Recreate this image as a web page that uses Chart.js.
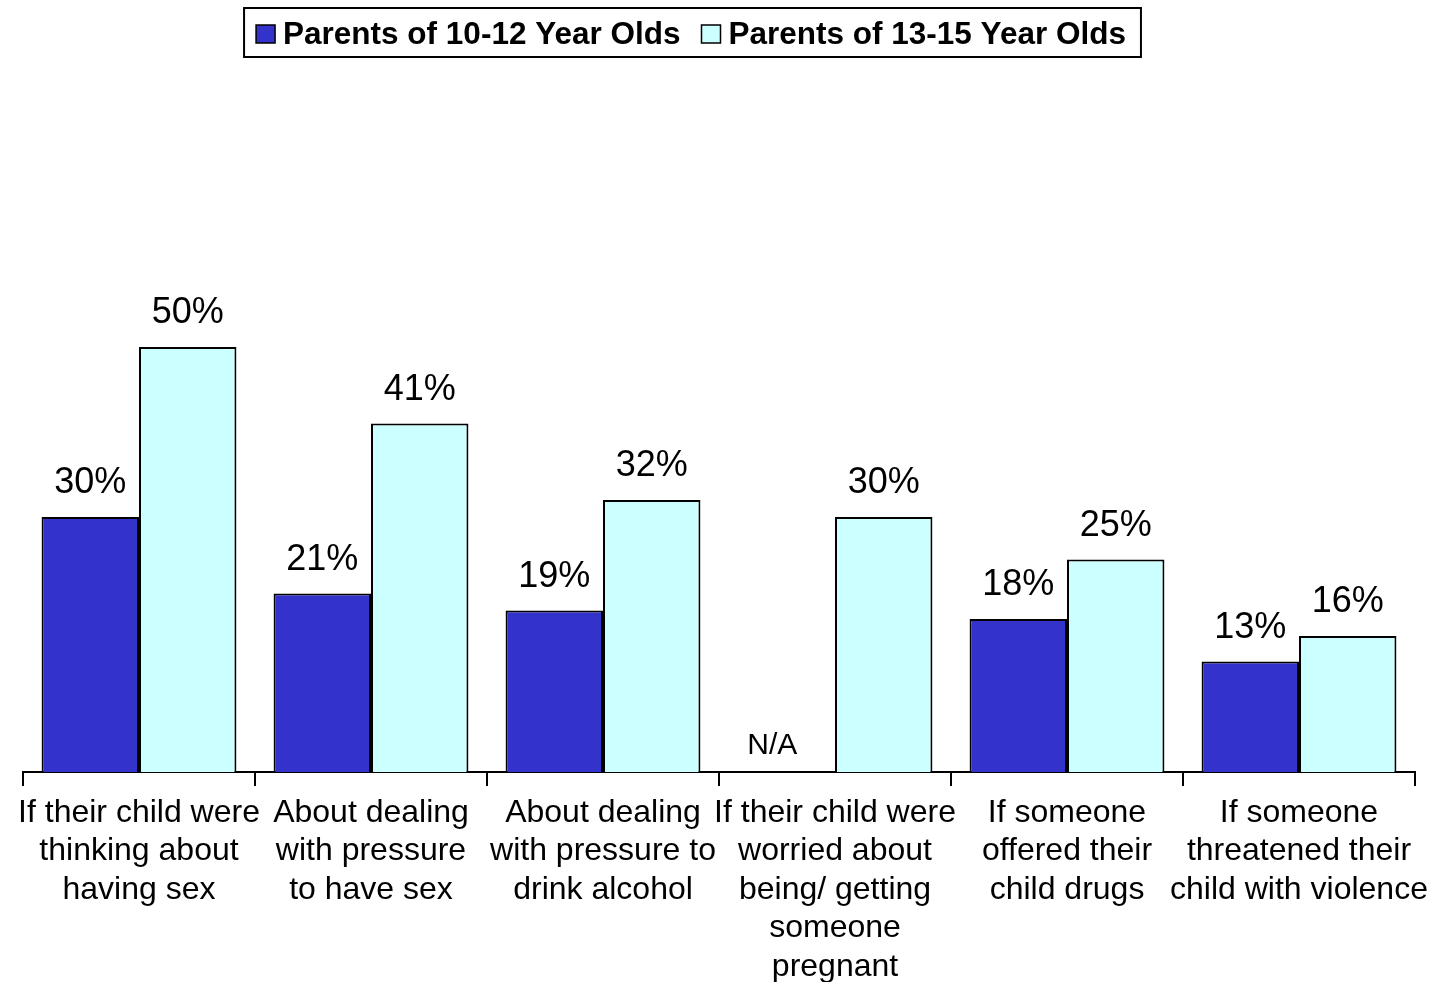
<!DOCTYPE html>
<html>
<head>
<meta charset="utf-8">
<script src="https://cdn.jsdelivr.net/npm/chart.js@4.4.1/dist/chart.umd.min.js"></script>
<style>
  html, body { margin: 0; padding: 0; background: #fff; }
  canvas { display: block; }
</style>
</head>
<body>
<canvas id="chart" width="1451" height="982"></canvas>
<script>
const categories = [
  ['If their child were', 'thinking about', 'having sex'],
  ['About dealing', 'with pressure', 'to have sex'],
  ['About dealing', 'with pressure to', 'drink alcohol'],
  ['If their child were', 'worried about', 'being/ getting', 'someone', 'pregnant'],
  ['If someone', 'offered their', 'child drugs'],
  ['If someone', 'threatened their', 'child with violence']
];
const parents10to12 = [30, 21, 19, null, 18, 13];
const parents13to15 = [50, 41, 32, 30, 25, 16];
const seriesNames = ['Parents of 10-12 Year Olds', 'Parents of 13-15 Year Olds'];
const seriesColors = ['#3333CC', '#CCFFFF'];

const FONT = '"Liberation Sans", Arial, sans-serif';

// percent labels above bars, N/A where a value is missing
const valueLabels = {
  id: 'valueLabels',
  afterDatasetsDraw(chart) {
    const ctx = chart.ctx;
    const bottom = chart.scales.y.getPixelForValue(0);
    ctx.save();
    ctx.fillStyle = '#000';
    ctx.textAlign = 'center';
    ctx.textBaseline = 'alphabetic';
    chart.data.datasets.forEach((ds, i) => {
      chart.getDatasetMeta(i).data.forEach((bar, j) => {
        const v = ds.data[j];
        if (v === null) {
          ctx.font = '30px ' + FONT;
          ctx.fillText('N/A', bar.x - 14, bottom - 18);
        } else {
          ctx.font = '36px ' + FONT;
          ctx.fillText(v + '%', bar.x, bar.y - 24);
        }
      });
    });
    ctx.restore();
  }
};

// legend in a black frame at the top
const boxedLegend = {
  id: 'boxedLegend',
  afterDraw(chart) {
    const ctx = chart.ctx;
    ctx.save();
    ctx.font = 'bold 31.5px ' + FONT;
    const box = 19, gap = 8, between = 21;
    const items = chart.data.datasets.map(ds => ({
      label: ds.label, color: ds.backgroundColor, w: ctx.measureText(ds.label).width
    }));
    let total = items.reduce((s, it) => s + box + gap + it.w, 0) + between * (items.length - 1);
    let x = 691 - total / 2;
    ctx.lineWidth = 2;
    ctx.strokeStyle = '#000';
    ctx.strokeRect(x - 12, 8, total + 27, 49);
    ctx.textBaseline = 'middle';
    ctx.textAlign = 'left';
    items.forEach(it => {
      ctx.fillStyle = it.color;
      ctx.fillRect(x, 25, box, 18);
      ctx.lineWidth = 1.5;
      ctx.strokeRect(x, 25, box, 18);
      ctx.fillStyle = '#000';
      ctx.fillText(it.label, x + box + gap, 35);
      x += box + gap + it.w + between;
    });
    ctx.restore();
  }
};

new Chart(document.getElementById('chart'), {
  type: 'bar',
  data: {
    labels: categories,
    datasets: [
      { label: seriesNames[0], data: parents10to12, backgroundColor: seriesColors[0], borderColor: '#000', borderWidth: 2 },
      { label: seriesNames[1], data: parents13to15, backgroundColor: seriesColors[1], borderColor: '#000', borderWidth: 2 }
    ]
  },
  options: {
    responsive: false,
    devicePixelRatio: 1,
    animation: false,
    categoryPercentage: 0.84,
    barPercentage: 1,
    layout: { padding: { top: 92, left: 23, right: 36, bottom: 0 } },
    plugins: {
      legend: { display: false },
      tooltip: { enabled: false }
    },
    scales: {
      x: {
        offset: true,
        border: { display: true, color: '#000', width: 2 },
        grid: { display: true, drawOnChartArea: false, drawTicks: true, tickLength: 14, color: '#000', lineWidth: 2, offset: true },
        ticks: { color: '#000', font: { family: FONT, size: 32 }, padding: 8, maxRotation: 0, autoSkip: false },
        afterFit(scale) { scale.height = 210; }
      },
      y: { display: false, min: 0, max: 80 }
    }
  },
  plugins: [valueLabels, boxedLegend]
});
</script>
</body>
</html>
